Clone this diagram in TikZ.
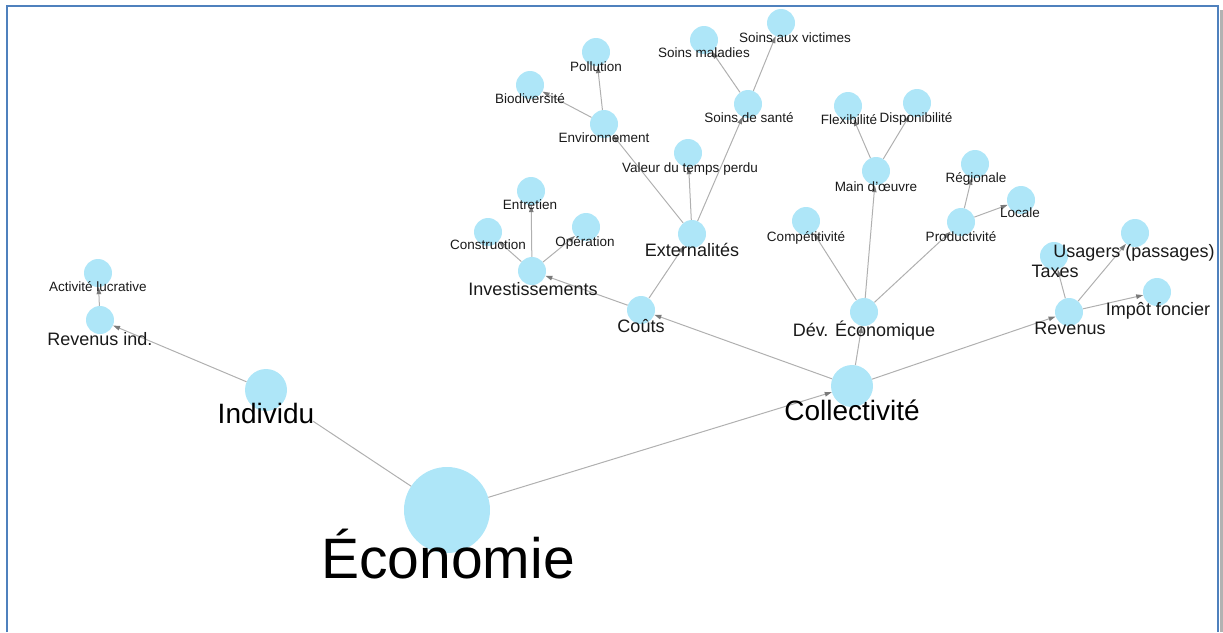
\documentclass[tikz,border=0pt]{standalone}
\usepackage{fontspec}
\setmainfont{Liberation Sans}
\usetikzlibrary{arrows.meta,calc}
\definecolor{nodefill}{HTML}{AEE6F8}
\definecolor{edgecol}{HTML}{B0B0B0}
\definecolor{tipcol}{HTML}{7A7A7A}
\definecolor{framecol}{HTML}{4F81BD}
\tikzset{
  dot/.style={circle,fill=nodefill,draw=none,inner sep=0pt,minimum size=28pt},
  mid/.style={circle,fill=nodefill,draw=none,inner sep=0pt,minimum size=42pt},
  big/.style={circle,fill=nodefill,draw=none,inner sep=0pt,minimum size=86pt},
  edge/.style={draw=edgecol,line width=1pt,-{Triangle[length=7pt,width=4.5pt,color=tipcol]}},
  plain/.style={draw=edgecol,line width=1pt},
  lbs/.style={inner sep=0pt,anchor=base,text=black!90,font=\fontsize{13.5}{14}\selectfont},
  lbm/.style={inner sep=0pt,anchor=base,text=black!90,font=\fontsize{18}{18}\selectfont},
  lbl/.style={inner sep=0pt,anchor=base,text=black,font=\fontsize{28}{28}\selectfont},
  lbxl/.style={inner sep=0pt,anchor=base,text=black,font=\fontsize{57}{57}\selectfont},
}
\begin{document}
\begin{tikzpicture}[x=1pt,y=-1pt]
\useasboundingbox (0,0) rectangle (1223,632);
% frame
\draw[gray!60,line width=3pt] (1221,10) -- (1221,632);
\draw[framecol,line width=2.5pt] (7,632) -- (7,6) -- (1218,6) -- (1218,632);
% circles
\node[big] (eco) at (447,510) {};
\node[mid] (ind) at (266,390) {};
\node[mid] (col) at (852,386) {};
\node[dot] (revind) at (100,320) {};
\node[dot] (act) at (98,273) {};
\node[dot] (couts) at (641,310) {};
\node[dot] (inv) at (532,271) {};
\node[dot] (cons) at (488,232) {};
\node[dot] (entr) at (531,191) {};
\node[dot] (oper) at (586,227) {};
\node[dot] (ext) at (692,234) {};
\node[dot] (poll) at (596,52) {};
\node[dot] (bio) at (530,85) {};
\node[dot] (env) at (604,124) {};
\node[dot] (val) at (688,153) {};
\node[dot] (sante) at (748,104) {};
\node[dot] (smal) at (704,40) {};
\node[dot] (svic) at (781,23) {};
\node[dot] (flex) at (848,106) {};
\node[dot] (disp) at (917,103) {};
\node[dot] (main) at (876,171) {};
\node[dot] (comp) at (806,221) {};
\node[dot] (reg) at (975,164) {};
\node[dot] (loc) at (1021,200) {};
\node[dot] (prod) at (961,222) {};
\node[dot] (dev) at (864,312) {};
\node[dot] (rev) at (1069,312) {};
\node[dot] (tax) at (1054,256) {};
\node[dot] (usa) at (1135,233) {};
\node[dot] (imp) at (1157,292) {};
% edges
\coordinate (indend) at ($(ind)!0.26!(eco)$);
\draw[plain] (eco) -- (indend);
\draw[edge] (eco) -- (col);
\draw[edge] (ind) -- (revind);
\draw[edge] (revind) -- (act);
\draw[edge] (col) -- (couts);
\draw[edge] (col) -- (dev);
\draw[edge] (col) -- (rev);
\draw[edge] (couts) -- (inv);
\draw[edge] (couts) -- (ext);
\draw[edge] (inv) -- (cons);
\draw[edge] (inv) -- (entr);
\draw[edge] (inv) -- (oper);
\draw[edge] (ext) -- (env);
\draw[edge] (ext) -- (val);
\draw[edge] (ext) -- (sante);
\draw[edge] (env) -- (poll);
\draw[edge] (env) -- (bio);
\draw[edge] (sante) -- (smal);
\draw[edge] (sante) -- (svic);
\draw[edge] (dev) -- (comp);
\draw[edge] (dev) -- (main);
\draw[edge] (dev) -- (prod);
\draw[edge] (main) -- (flex);
\draw[edge] (main) -- (disp);
\draw[edge] (prod) -- (reg);
\draw[edge] (prod) -- (loc);
\draw[edge] (rev) -- (tax);
\draw[edge] (rev) -- (usa);
\draw[edge] (rev) -- (imp);
% labels
\node[lbxl] (ecol) at (448,578) {Économie};
\node[lbl] (indl) at (266,423) {Individu};
\node[lbl] (coll) at (852,420) {Collectivité};
\node[lbm] (revindl) at (100,345) {Revenus ind.};
\node[lbs] (actl) at (98,291) {Activité lucrative};
\node[lbm] (coutsl) at (641,332) {Coûts};
\node[lbm] (invl) at (533,295) {Investissements};
\node[lbs] (consl) at (488,249) {Construction};
\node[lbs] (entrl) at (530,209) {Entretien};
\node[lbs] (operl) at (585,246) {Opération};
\node[lbm] (extl) at (692,256) {Externalités};
\node[lbs] (polll) at (596,71) {Pollution};
\node[lbs] (biol) at (530,103) {Biodiversité};
\node[lbs] (envl) at (604,142) {Environnement};
\node[lbs] (vall) at (690,172) {Valeur du temps perdu};
\node[lbs] (santel) at (749,122) {Soins de santé};
\node[lbs] (small) at (704,57) {Soins maladies};
\node[lbs] (svicl) at (795,42) {Soins aux victimes};
\node[lbs] (flexl) at (849,124) {Flexibilité};
\node[lbs] (displ) at (916,122) {Disponibilité};
\node[lbs] (mainl) at (876,191) {Main d'œuvre};
\node[lbs] (compl) at (806,241) {Compétitivité};
\node[lbs] (regl) at (976,182) {Régionale};
\node[lbs] (locl) at (1020,217) {Locale};
\node[lbs] (prodl) at (961,241) {Productivité};
\node[lbm] (devl) at (864,336) {Dév. Économique};
\node[lbm] (revl) at (1070,334) {Revenus};
\node[lbm] (taxl) at (1055,277) {Taxes};
\node[lbm] (usal) at (1134,257) {Usagers (passages)};
\node[lbm] (impl) at (1158,315) {Impôt foncier};
\end{tikzpicture}
\end{document}
